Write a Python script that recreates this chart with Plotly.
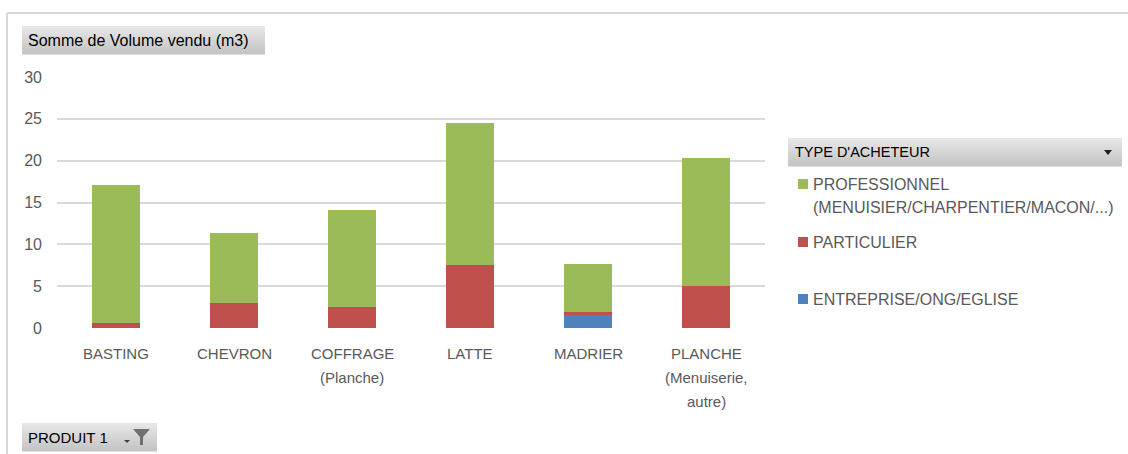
"""Pivot chart: Somme de Volume vendu (m3) par produit et type d'acheteur."""

import plotly.graph_objects as go

W, H = 1128, 454
# plot area in pixels
X0, X1, Y0, Y1 = 57, 765, 77, 328

produits = ["BASTING", "CHEVRON", "COFFRAGE\n(Planche)", "LATTE", "MADRIER",
            "PLANCHE\n(Menuiserie,\nautre)"]
entreprise = [0, 0, 0, 0, 1.5, 0]
particulier = [0.6, 3.0, 2.5, 7.5, 0.4, 5.0]
professionnel = [16.5, 8.3, 11.6, 17.0, 5.7, 15.3]

series = [
    ("ENTREPRISE/ONG/EGLISE", entreprise, "#4F81BD"),
    ("PARTICULIER", particulier, "#C0504D"),
    ("PROFESSIONNEL\n(MENUISIER/CHARPENTIER/MACON/...)", professionnel, "#9BBB59"),
]

FONT = "Liberation Sans"
GREY_TXT = "#595959"


def px(x):
    return (x - X0) / (X1 - X0)


def py(y):
    return (Y1 - y) / (Y1 - Y0)


fig = go.Figure()
for name, vals, col in series:
    fig.add_trace(go.Bar(x=produits, y=vals, name=name.replace("\n", " "),
                         marker=dict(color=col, line=dict(width=0))))

shapes = []
annotations = []

# chart border (top / left)
shapes.append(dict(type="line", xref="paper", yref="paper", x0=px(7), x1=px(W + 5),
                   y0=py(13), y1=py(13), line=dict(color="#d9d9d9", width=2)))
shapes.append(dict(type="line", xref="paper", yref="paper", x0=px(7), x1=px(7),
                   y0=py(13), y1=py(H + 5), line=dict(color="#d9d9d9", width=2)))


def field_button(x0, y0, x1, y1):
    steps = 14
    for i in range(steps):
        t = i / (steps - 1)
        g = int(231 - 34 * t)
        ya = y0 + (y1 - y0) * i / steps
        yb = y0 + (y1 - y0) * (i + 1) / steps
        shapes.append(dict(type="rect", xref="paper", yref="paper", x0=px(x0), x1=px(x1),
                           y0=py(ya), y1=py(yb + 0.5), line=dict(width=0),
                           fillcolor=f"rgb({g},{g},{g})", layer="below"))


field_button(22, 26, 265, 54)
annotations.append(dict(text="Somme de Volume vendu (m3)", xref="paper", yref="paper",
                        x=px(26), y=py(41), xanchor="left", yanchor="middle", showarrow=False,
                        font=dict(family=FONT, size=16, color="#000000")))

field_button(788, 138, 1122, 166)
annotations.append(dict(text="TYPE D'ACHETEUR", xref="paper", yref="paper",
                        x=px(793), y=py(152), xanchor="left", yanchor="middle", showarrow=False,
                        font=dict(family=FONT, size=14.5, color="#000000")))
shapes.append(dict(type="path", xref="paper", yref="paper",
                   path=f"M {px(1104)} {py(150)} L {px(1112)} {py(150)} L {px(1108)} {py(155)} Z",
                   fillcolor="#202020", line=dict(width=0)))

field_button(22, 423, 157, 451)
annotations.append(dict(text="PRODUIT 1", xref="paper", yref="paper",
                        x=px(26), y=py(437), xanchor="left", yanchor="middle", showarrow=False,
                        font=dict(family=FONT, size=15, color="#000000")))
shapes.append(dict(type="path", xref="paper", yref="paper",
                   path=f"M {px(124)} {py(440)} L {px(130)} {py(440)} L {px(127)} {py(443)} Z",
                   fillcolor="#404040", line=dict(width=0)))
shapes.append(dict(type="path", xref="paper", yref="paper",
                   path=(f"M {px(133)} {py(429)} L {px(150)} {py(429)} L {px(143)} {py(437)} "
                         f"L {px(143)} {py(445)} L {px(140)} {py(445)} L {px(140)} {py(437)} Z"),
                   fillcolor="#707070", line=dict(width=0)))

# legend (manual, Excel style)
legend_rows = [(["PROFESSIONNEL", "(MENUISIER/CHARPENTIER/MACON/...)"], "#9BBB59", 184),
               (["PARTICULIER"], "#C0504D", 242),
               (["ENTREPRISE/ONG/EGLISE"], "#4F81BD", 299)]
for lines, col, yy in legend_rows:
    shapes.append(dict(type="rect", xref="paper", yref="paper", x0=px(798), x1=px(808),
                       y0=py(yy - 5), y1=py(yy + 5), fillcolor=col, line=dict(width=0)))
    for i, line in enumerate(lines):
        annotations.append(dict(text=line, xref="paper", yref="paper", x=px(811),
                                y=py(yy + 23 * i), xanchor="left", yanchor="middle",
                                showarrow=False, font=dict(family=FONT, size=16, color=GREY_TXT)))

# category labels, Excel line spacing
for p in produits:
    for i, line in enumerate(p.split("\n")):
        annotations.append(dict(text=line, xref="x", yref="paper", x=p, y=py(353 + 24 * i),
                                xanchor="center", yanchor="middle", showarrow=False,
                                font=dict(family=FONT, size=15, color=GREY_TXT)))

fig.update_layout(
    barmode="stack",
    bargap=0.6,
    width=W,
    height=H,
    margin=dict(l=X0, r=W - X1, t=Y0, b=H - Y1, pad=0),
    plot_bgcolor="white",
    paper_bgcolor="white",
    showlegend=False,
    shapes=shapes,
    annotations=annotations,
    font=dict(family=FONT, size=15, color=GREY_TXT),
)
fig.update_xaxes(showticklabels=False, showgrid=False, zeroline=False, showline=False)
fig.update_yaxes(range=[0, 30], dtick=5, showgrid=True, gridcolor="#d9d9d9", gridwidth=1.5,
                 zeroline=False, showline=False, ticks="", ticklabelstandoff=14,
                 tickfont=dict(family=FONT, size=16, color=GREY_TXT))

fig.write_html("out.html", config={"displayModeBar": False},
               post_script="document.body.style.margin='0';")
